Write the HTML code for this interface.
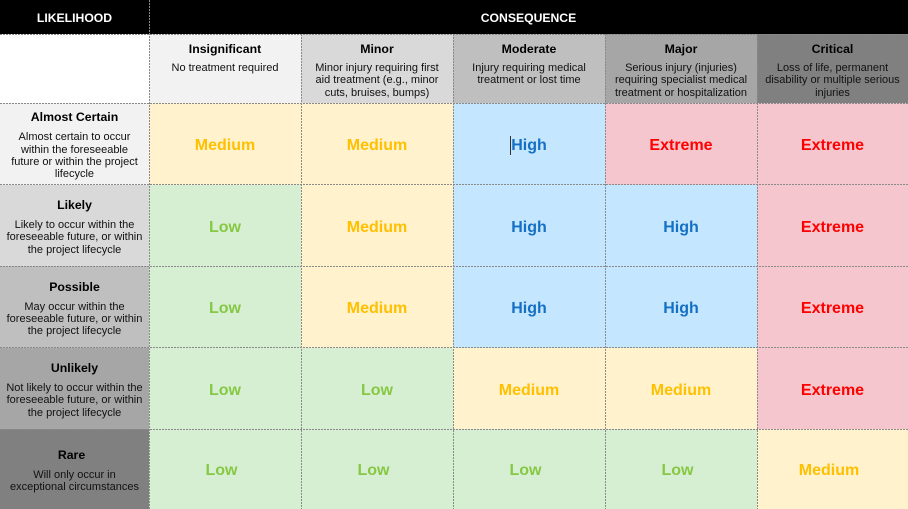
<!DOCTYPE html>
<html>
<head>
<meta charset="utf-8">
<style>
  html,body{margin:0;padding:0;}
  body{width:908px;height:509px;overflow:hidden;background:#fff;position:relative;
       font-family:"Liberation Sans",Arial,sans-serif;color:#000;}
  .c{position:absolute;box-sizing:border-box;display:flex;align-items:center;justify-content:center;text-align:center;}
  .hd{position:absolute;top:0;height:34px;background:#000;color:#fff;font-weight:bold;font-size:12.2px;
      display:flex;align-items:center;justify-content:center;padding-top:1px;box-sizing:border-box;}
  .ch{position:absolute;top:34px;height:69px;box-sizing:border-box;text-align:center;}
  .t{font-weight:bold;font-size:12.3px;line-height:14px;white-space:nowrap;}
  .d{font-size:11px;line-height:12.3px;white-space:nowrap;color:#111;}
  .ch .t{position:absolute;left:0;right:0;top:8px;}
  .ch .d{position:absolute;left:0;right:0;top:28px;}
  .lc{flex-direction:column;padding-top:3px;}
  .lc .d{margin-top:7px;}
  .lab{font-weight:bold;font-size:16px;white-space:nowrap;position:relative;top:2px;}
  .Y{background:#fff2cc;} .Y .lab{color:#ffc000;}
  .G{background:#d6efd3;} .G .lab{color:#86c843;}
  .B{background:#c5e6ff;} .B .lab{color:#1470c4;}
  .R{background:#f5c6cd;} .R .lab{color:#ff0000;}
  svg{position:absolute;left:0;top:0;}
</style>
</head>
<body>
<!-- black header -->
<div class="hd" style="left:0;width:149px;">LIKELIHOOD</div>
<div class="hd" style="left:149px;width:759px;">CONSEQUENCE</div>

<!-- consequence header cells -->
<div class="ch" style="left:0;width:149px;background:#fff;"></div>
<div class="ch" style="left:149px;width:152px;background:#f2f2f2;"><div class="t">Insignificant</div><div class="d">No treatment required</div></div>
<div class="ch" style="left:301px;width:152px;background:#d9d9d9;"><div class="t">Minor</div><div class="d">Minor injury requiring first<br>aid treatment (e.g., minor<br>cuts, bruises, bumps)</div></div>
<div class="ch" style="left:453px;width:152px;background:#bfbfbf;"><div class="t">Moderate</div><div class="d">Injury requiring medical<br>treatment or lost time</div></div>
<div class="ch" style="left:605px;width:152px;background:#a6a6a6;"><div class="t">Major</div><div class="d">Serious injury (injuries)<br>requiring specialist medical<br>treatment or hospitalization</div></div>
<div class="ch" style="left:757px;width:151px;background:#808080;"><div class="t">Critical</div><div class="d">Loss of life, permanent<br>disability or multiple serious<br>injuries</div></div>

<!-- likelihood column -->
<div class="c lc" style="left:0;top:103px;width:149px;height:82px;background:#f2f2f2;"><div class="t">Almost Certain</div><div class="d">Almost certain to occur<br>within the foreseeable<br>future or within the project<br>lifecycle</div></div>
<div class="c lc" style="left:0;top:185px;width:149px;height:81px;background:#d9d9d9;"><div class="t">Likely</div><div class="d">Likely to occur within the<br>foreseeable future, or within<br>the project lifecycle</div></div>
<div class="c lc" style="left:0;top:266px;width:149px;height:82px;background:#bfbfbf;"><div class="t">Possible</div><div class="d">May occur within the<br>foreseeable future, or within<br>the project lifecycle</div></div>
<div class="c lc" style="left:0;top:348px;width:149px;height:81px;background:#a6a6a6;"><div class="t">Unlikely</div><div class="d">Not likely to occur within the<br>foreseeable future, or within<br>the project lifecycle</div></div>
<div class="c lc" style="left:0;top:429px;width:149px;height:80px;background:#808080;"><div class="t" style="margin-right:6px;">Rare</div><div class="d">Will only occur in<br>exceptional circumstances</div></div>

<!-- row 1 -->
<div class="c Y" style="left:149px;top:103px;width:152px;height:82px;"><span class="lab">Medium</span></div>
<div class="c Y" style="left:301px;top:103px;width:152px;height:82px;"><span class="lab">Medium</span></div>
<div class="c B" style="left:453px;top:103px;width:152px;height:82px;"><span class="lab">High</span></div>
<div class="c R" style="left:605px;top:103px;width:152px;height:82px;"><span class="lab">Extreme</span></div>
<div class="c R" style="left:757px;top:103px;width:151px;height:82px;"><span class="lab">Extreme</span></div>
<!-- row 2 -->
<div class="c G" style="left:149px;top:185px;width:152px;height:81px;"><span class="lab">Low</span></div>
<div class="c Y" style="left:301px;top:185px;width:152px;height:81px;"><span class="lab">Medium</span></div>
<div class="c B" style="left:453px;top:185px;width:152px;height:81px;"><span class="lab">High</span></div>
<div class="c B" style="left:605px;top:185px;width:152px;height:81px;"><span class="lab">High</span></div>
<div class="c R" style="left:757px;top:185px;width:151px;height:81px;"><span class="lab">Extreme</span></div>
<!-- row 3 -->
<div class="c G" style="left:149px;top:266px;width:152px;height:82px;"><span class="lab">Low</span></div>
<div class="c Y" style="left:301px;top:266px;width:152px;height:82px;"><span class="lab">Medium</span></div>
<div class="c B" style="left:453px;top:266px;width:152px;height:82px;"><span class="lab">High</span></div>
<div class="c B" style="left:605px;top:266px;width:152px;height:82px;"><span class="lab">High</span></div>
<div class="c R" style="left:757px;top:266px;width:151px;height:82px;"><span class="lab">Extreme</span></div>
<!-- row 4 -->
<div class="c G" style="left:149px;top:348px;width:152px;height:81px;"><span class="lab">Low</span></div>
<div class="c G" style="left:301px;top:348px;width:152px;height:81px;"><span class="lab">Low</span></div>
<div class="c Y" style="left:453px;top:348px;width:152px;height:81px;"><span class="lab">Medium</span></div>
<div class="c Y" style="left:605px;top:348px;width:152px;height:81px;"><span class="lab">Medium</span></div>
<div class="c R" style="left:757px;top:348px;width:151px;height:81px;"><span class="lab">Extreme</span></div>
<!-- row 5 -->
<div class="c G" style="left:149px;top:429px;width:152px;height:80px;"><span class="lab" style="margin-right:7px;">Low</span></div>
<div class="c G" style="left:301px;top:429px;width:152px;height:80px;"><span class="lab" style="margin-right:7px;">Low</span></div>
<div class="c G" style="left:453px;top:429px;width:152px;height:80px;"><span class="lab" style="margin-right:7px;">Low</span></div>
<div class="c G" style="left:605px;top:429px;width:152px;height:80px;"><span class="lab" style="margin-right:7px;">Low</span></div>
<div class="c Y" style="left:757px;top:429px;width:151px;height:80px;"><span class="lab" style="margin-right:7px;">Medium</span></div>

<!-- text cursor -->
<div style="position:absolute;left:510px;top:136px;width:1px;height:19px;background:#333;"></div>

<!-- grid lines -->
<svg width="908" height="509" viewBox="0 0 908 509">
  <g stroke="#8a8a8a" stroke-width="1" stroke-dasharray="2,1" fill="none">
    <line x1="149.5" y1="0" x2="149.5" y2="509"/>
    <line x1="301.5" y1="34" x2="301.5" y2="509"/>
    <line x1="453.5" y1="34" x2="453.5" y2="509"/>
    <line x1="605.5" y1="34" x2="605.5" y2="509"/>
    <line x1="757.5" y1="34" x2="757.5" y2="509"/>
    <line x1="0" y1="34.5" x2="908" y2="34.5"/>
    <line x1="0" y1="103.5" x2="908" y2="103.5"/>
    <line x1="0" y1="184.5" x2="908" y2="184.5"/>
    <line x1="0" y1="266.5" x2="908" y2="266.5"/>
    <line x1="0" y1="347.5" x2="908" y2="347.5"/>
    <line x1="0" y1="429.5" x2="908" y2="429.5"/>
  </g>
</svg>
</body>
</html>
